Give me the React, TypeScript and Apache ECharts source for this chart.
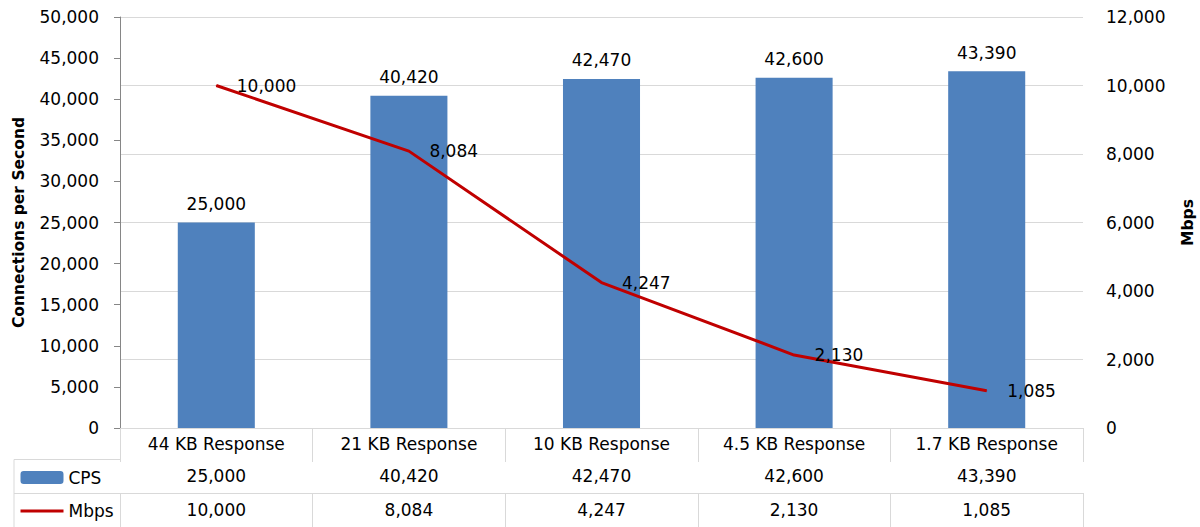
import React, { useEffect, useRef } from "react";
import * as echarts from "echarts";

const categories = ["44 KB Response", "21 KB Response", "10 KB Response", "4.5 KB Response", "1.7 KB Response"];
const cps = [25000, 40420, 42470, 42600, 43390];
const mbps = [10000, 8084, 4247, 2130, 1085];
const leftTicks = { min: 0, max: 50000, interval: 5000 };
const rightTicks = { min: 0, max: 12000, interval: 2000 };

const FONT = "DejaVu Sans";
const fmt = (v: number) => Number(v).toLocaleString("en-US");
const GRID = "#d9d9d9";

export default function App() {
  const ref = useRef<HTMLDivElement>(null);
  useEffect(() => {
    if (!ref.current) return;
    const chart = echarts.init(ref.current, undefined, { renderer: "svg" });
    const tableAxis = (offset: number, tickLen: number, margin: number, formatter: any) => ({
      type: "category",
      data: categories,
      position: "bottom",
      offset,
      gridIndex: 0,
      axisLine: { show: true, lineStyle: { color: GRID, width: 1 } },
      axisTick: { show: true, interval: 0, length: tickLen, lineStyle: { color: GRID, width: 1 } },
      axisLabel: {
        show: true,
        interval: 0,
        margin,
        verticalAlign: "middle",
        fontFamily: FONT,
        fontSize: 17,
        color: "#000",
        formatter,
      },
      splitLine: { show: false },
    });
    chart.setOption({
      animation: false,
      textStyle: { fontFamily: FONT },
      grid: { left: 120, right: 117, top: 17, bottom: 99, containLabel: false, outerBoundsMode: "none" },
      legend: {
        orient: "vertical",
        left: 19,
        top: 469,
        height: 90,
        padding: 0,
        itemWidth: 43,
        itemHeight: 13,
        itemGap: 16.5,
        selectedMode: false,
        textStyle: { fontFamily: FONT, fontSize: 17, color: "#000" },
        data: [
          { name: "CPS" },
          { name: "Mbps", itemStyle: { opacity: 0 }, lineStyle: { width: 3, color: "#c00000" } },
        ],
      },
      xAxis: [
        tableAxis(0, 31, 15.5, (v: string) => v),
        tableAxis(31, 34, 17, (_v: string, i: number) => fmt(cps[i])),
        tableAxis(65, 34, 17, (_v: string, i: number) => fmt(mbps[i])),
      ],
      yAxis: [
        {
          type: "value",
          position: "left",
          ...leftTicks,
          axisLine: { show: true, lineStyle: { color: "#868686", width: 1 } },
          axisTick: { show: true, length: 6, lineStyle: { color: "#868686" } },
          splitLine: { show: false },
          axisLabel: { margin: 21, fontFamily: FONT, fontSize: 17, color: "#000", formatter: (v: number) => fmt(v) },
        },
        {
          type: "value",
          position: "right",
          ...rightTicks,
          axisLine: { show: false },
          axisTick: { show: false },
          splitLine: { show: true, lineStyle: { color: GRID, width: 1 } },
          axisLabel: { margin: 23, fontFamily: FONT, fontSize: 17, color: "#000", formatter: (v: number) => fmt(v) },
        },
      ],
      series: [
        {
          name: "CPS",
          type: "bar",
          xAxisIndex: 0,
          yAxisIndex: 0,
          data: cps,
          barWidth: "40%",
          itemStyle: { color: "#4f81bd" },
          label: {
            show: true,
            position: "top",
            distance: 10,
            fontFamily: FONT,
            fontSize: 17,
            color: "#000",
            formatter: (p: any) => fmt(p.value),
          },
        },
        {
          name: "Mbps",
          type: "line",
          xAxisIndex: 0,
          yAxisIndex: 1,
          data: mbps,
          symbol: "circle",
          symbolSize: 1,
          showSymbol: true,
          lineStyle: { color: "#c00000", width: 3 },
          itemStyle: { color: "#c00000" },
          z: 5,
          label: {
            show: true,
            position: "right",
            distance: 20,
            fontFamily: FONT,
            fontSize: 17,
            color: "#000",
            formatter: (p: any) => fmt(p.value),
          },
        },
      ],
      graphic: [
        {
          type: "text",
          x: 19,
          y: 222.5,
          rotation: Math.PI / 2,
          style: {
            text: "Connections per Second",
            fontFamily: FONT,
            fontSize: 15.5,
            fontWeight: "bold",
            fill: "#000",
            align: "center",
            verticalAlign: "middle",
          },
        },
        {
          type: "text",
          x: 1188,
          y: 222.5,
          rotation: Math.PI / 2,
          style: {
            text: "Mbps",
            fontFamily: FONT,
            fontSize: 15.5,
            fontWeight: "bold",
            fill: "#000",
            align: "center",
            verticalAlign: "middle",
          },
        },
        { type: "line", shape: { x1: 14, y1: 459.5, x2: 120, y2: 459.5 }, style: { stroke: GRID, lineWidth: 1 } },
        { type: "line", shape: { x1: 14, y1: 493.5, x2: 120, y2: 493.5 }, style: { stroke: GRID, lineWidth: 1 } },
        { type: "line", shape: { x1: 14, y1: 459.5, x2: 14, y2: 527 }, style: { stroke: GRID, lineWidth: 1 } },
      ],
    });
    return () => chart.dispose();
  }, []);
  return <div ref={ref} style={{ width: 1200, height: 527, position: "absolute", left: 0, top: 0 }} />;
}
